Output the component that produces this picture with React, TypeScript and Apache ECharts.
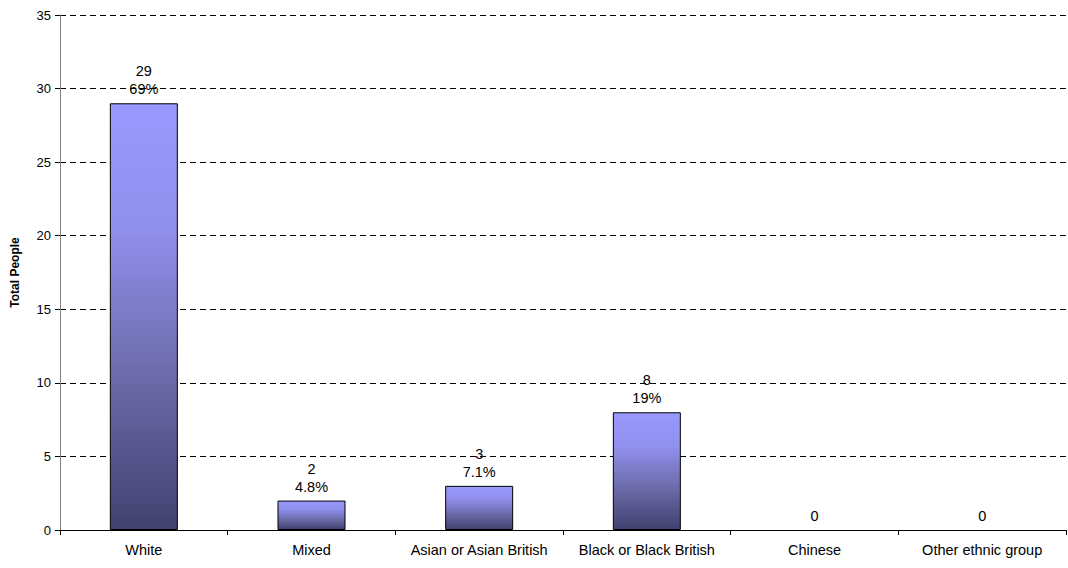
import React, { useEffect, useRef } from "react";
import * as echarts from "echarts";

const categories = ["White", "Mixed", "Asian or Asian British", "Black or Black British", "Chinese", "Other ethnic group"];
const values = [29, 2, 3, 8, 0, 0];
const percentLabels = ["69%", "4.8%", "7.1%", "19%", "", ""];
const yTicks = [0, 5, 10, 15, 20, 25, 30, 35];

export default function App() {
  const ref = useRef<HTMLDivElement>(null);
  useEffect(() => {
    document.body.style.margin = "0";
    const chart = echarts.init(ref.current!, null, { renderer: "svg" });
    const font = "'Liberation Sans', Arial, sans-serif";
    chart.setOption({
      animation: false,
      backgroundColor: "#ffffff",
      grid: { left: 60, right: 2, top: 15, bottom: 38, containLabel: false },
      xAxis: {
        type: "category",
        data: categories,
        axisLine: { lineStyle: { color: "#000", width: 1 } },
        axisTick: { show: true, length: 5, interval: 0, lineStyle: { color: "#000" } },
        axisLabel: { color: "#000", fontSize: 14.5, fontFamily: font, margin: 12, interval: 0 },
      },
      yAxis: {
        type: "value",
        min: yTicks[0],
        max: yTicks[yTicks.length - 1],
        interval: 5,
        name: "Total People",
        nameLocation: "middle",
        nameGap: 39,
        nameTextStyle: { color: "#000", fontSize: 12, fontWeight: "bold", fontFamily: font },
        axisLine: { show: true, lineStyle: { color: "#808080", width: 1 } },
        axisTick: { show: true, length: 5, lineStyle: { color: "#000" } },
        axisLabel: { color: "#000", fontSize: 13, fontFamily: font, margin: 9 },
        splitLine: { show: true, lineStyle: { color: "#000", width: 1, type: [6, 4] } },
      },
      series: [
        {
          type: "bar",
          data: values.map((v) => ({
            value: v,
            itemStyle: v === 0 ? { borderWidth: 0, opacity: 0 } : undefined,
          })),
          barWidth: 68,
          itemStyle: {
            borderColor: "#000",
            borderWidth: 1,
            color: new echarts.graphic.LinearGradient(0, 0, 0, 1, [
              { offset: 0, color: "#9999ff" },
              { offset: 0.3, color: "#8f8fec" },
              { offset: 0.65, color: "#6a6aa8" },
              { offset: 1, color: "#414170" },
            ]),
          },
          label: {
            show: true,
            position: "top",
            distance: 5,
            color: "#000",
            fontSize: 14.5,
            fontFamily: font,
            lineHeight: 18,
            opacity: 1,
            formatter: (p: any) =>
              p.value === 0 ? "0" : `${p.value}\n${percentLabels[p.dataIndex]}`,
          },
        },
      ],
    });
    return () => chart.dispose();
  }, []);
  return <div ref={ref} style={{ width: 1068, height: 568 }} />;
}
